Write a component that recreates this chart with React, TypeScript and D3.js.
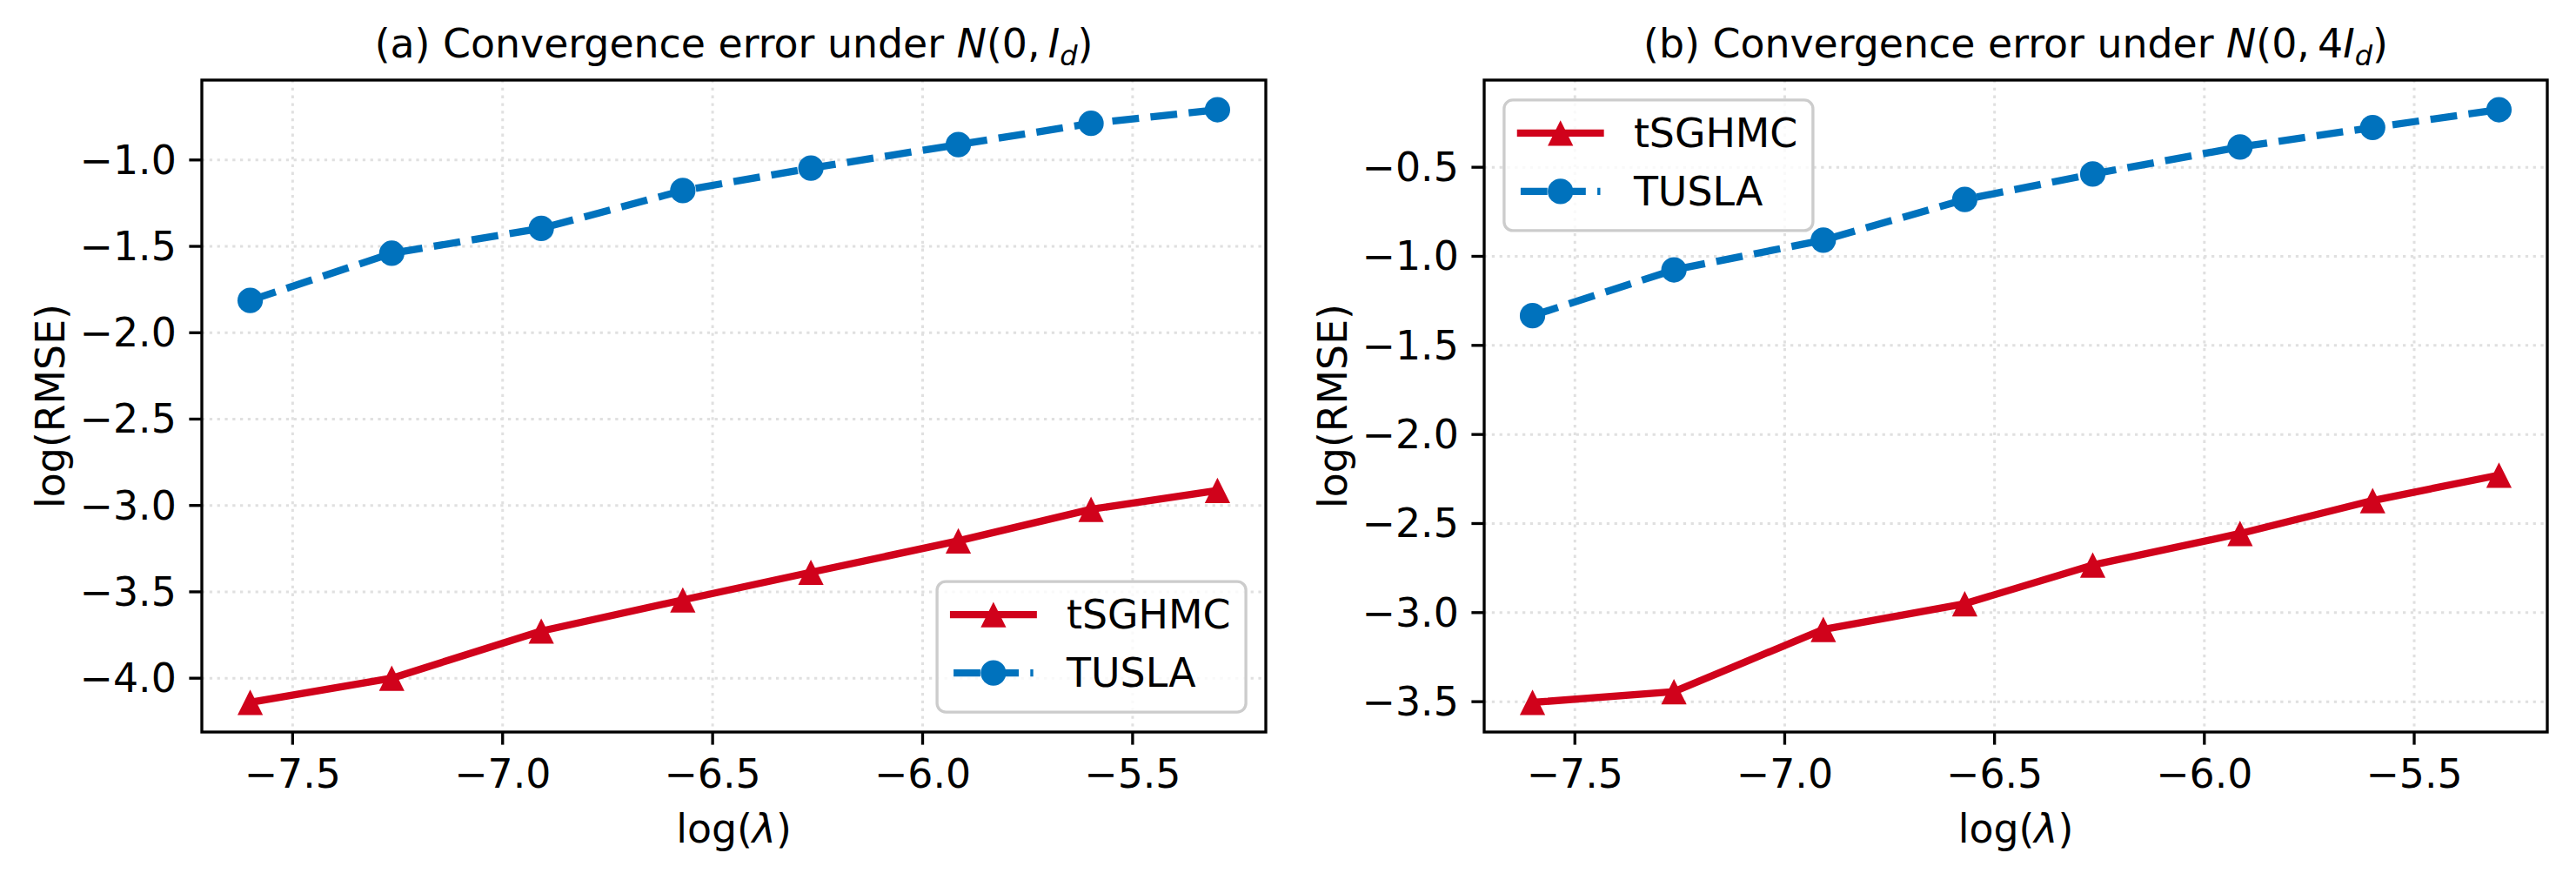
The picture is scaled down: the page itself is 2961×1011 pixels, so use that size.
import React from 'react';
import * as d3 from 'd3';

// log(lambda) values (shared by both panels)
const logLambda = [-7.601, -7.264, -6.908, -6.571, -6.266, -5.915, -5.599, -5.298];

// panel (a): N(0, I_d)
const tsghmcA = [-4.14, -4.0, -3.727, -3.547, -3.387, -3.205, -3.022, -2.913];
const tuslaA = [-1.813, -1.54, -1.396, -1.177, -1.047, -0.911, -0.788, -0.709];

// panel (b): N(0, 4I_d)
const tsghmcB = [-3.504, -3.444, -3.094, -2.95, -2.733, -2.556, -2.371, -2.228];
const tuslaB = [-1.333, -1.076, -0.909, -0.681, -0.538, -0.386, -0.277, -0.177];

const xTicks = [-7.5, -7.0, -6.5, -6.0, -5.5];
const yTicksA = [-4.0, -3.5, -3.0, -2.5, -2.0, -1.5, -1.0];
const yTicksB = [-3.5, -3.0, -2.5, -2.0, -1.5, -1.0, -0.5];

const RED = '#d0021b';
const BLUE = '#0072bd';
const FONT = 'DejaVu Sans';
const FS = 45.8;
const LW = 8.33;
const MS = 29.2;
const TICK = 14.6;

const fmt = (v: number) => v.toFixed(1).replace('-', '\u2212');

const pad = (arr: number[]) => {
  const [lo, hi] = d3.extent(arr) as [number, number];
  const m = (hi - lo) * 0.05;
  return [lo - m, hi + m];
};

const Triangle = ({ x, y, fill }: { x: number; y: number; fill: string }) => {
  const h = MS / 2;
  return <path d={`M${x},${y - h}L${x - h},${y + h}L${x + h},${y + h}Z`} fill={fill} />;
};

interface PanelProps {
  left: number;
  right: number;
  top: number;
  bottom: number;
  tsghmc: number[];
  tusla: number[];
  yTicks: number[];
  label: string;
  scale: string;
  legendPos: 'lower right' | 'upper left';
}

const Panel: React.FC<PanelProps> = ({ left, right, top, bottom, tsghmc, tusla, yTicks, label, scale, legendPos }) => {
  const x = d3.scaleLinear().domain(pad(logLambda)).range([left, right]);
  const y = d3.scaleLinear().domain(pad([...tsghmc, ...tusla])).range([bottom, top]);
  const line = d3.line<number>().x((_, i) => x(logLambda[i])).y(d => y(d));
  const cx = (left + right) / 2;
  const cy = (top + bottom) / 2;

  const lw = 355, lh = 150, bp = 22.9;
  const lx = legendPos === 'lower right' ? right - bp - lw : left + bp;
  const ly = legendPos === 'lower right' ? bottom - bp - lh : top + bp;
  const r1 = ly + 38, r2 = ly + 105;
  const hx0 = lx + 19, hx1 = lx + 19 + 91.6;
  const hm = (hx0 + hx1) / 2;

  return (
    <g fontFamily={FONT}>
      {/* grid */}
      {xTicks.map(t => (
        <line key={'gx' + t} x1={x(t)} x2={x(t)} y1={top} y2={bottom} stroke="#e0e0e0" strokeWidth={3} strokeDasharray="3.3,5.5" />
      ))}
      {yTicks.map(t => (
        <line key={'gy' + t} x1={left} x2={right} y1={y(t)} y2={y(t)} stroke="#e0e0e0" strokeWidth={3} strokeDasharray="3.3,5.5" />
      ))}

      {/* tSGHMC */}
      <path d={line(tsghmc) || ''} fill="none" stroke={RED} strokeWidth={LW} strokeLinejoin="round" strokeLinecap="square" />
      {tsghmc.map((v, i) => <Triangle key={'t' + i} x={x(logLambda[i])} y={y(v)} fill={RED} />)}

      {/* TUSLA */}
      <path d={line(tusla) || ''} fill="none" stroke={BLUE} strokeWidth={LW} strokeLinejoin="round" strokeDasharray="30.8,13.3" />
      {tusla.map((v, i) => <circle key={'c' + i} cx={x(logLambda[i])} cy={y(v)} r={MS / 2} fill={BLUE} />)}

      {/* spines */}
      <rect x={left} y={top} width={right - left} height={bottom - top} fill="none" stroke="#000" strokeWidth={3.33} />

      {/* x ticks */}
      {xTicks.map(t => (
        <g key={'xt' + t}>
          <line x1={x(t)} x2={x(t)} y1={bottom} y2={bottom + TICK} stroke="#000" strokeWidth={3.33} />
          <text x={x(t)} y={bottom + 64} textAnchor="middle" fontSize={FS}>{fmt(t)}</text>
        </g>
      ))}
      {/* y ticks */}
      {yTicks.map(t => (
        <g key={'yt' + t}>
          <line x1={left - TICK} x2={left} y1={y(t)} y2={y(t)} stroke="#000" strokeWidth={3.33} />
          <text x={left - 29.2} y={y(t)} textAnchor="end" dominantBaseline="central" fontSize={FS}>{fmt(t)}</text>
        </g>
      ))}

      {/* labels */}
      <text x={cx} y={bottom + 127} textAnchor="middle" fontSize={FS}>
        log(<tspan fontStyle="italic">λ</tspan>)
      </text>
      <text transform={`translate(${left - 158},${cy}) rotate(-90)`} textAnchor="middle" fontSize={FS}>log(RMSE)</text>
      <text x={cx} y={top - 26} textAnchor="middle" fontSize={FS}>
        {label} Convergence error under <tspan fontStyle="italic">N</tspan>(0,{'\u2009'}{scale}<tspan fontStyle="italic">I</tspan>
        <tspan fontStyle="italic" fontSize={32} dy={9}>d</tspan>
        <tspan dy={-9}>)</tspan>
      </text>

      {/* legend */}
      <rect x={lx} y={ly} width={lw} height={lh} rx={10} fill="#fff" fillOpacity={0.8} stroke="#cccccc" strokeWidth={3.33} />
      <line x1={hx0} x2={hx1} y1={r1} y2={r1} stroke={RED} strokeWidth={LW} strokeLinecap="square" />
      <Triangle x={hm} y={r1} fill={RED} />
      <text x={lx + 149} y={r1} dominantBaseline="central" fontSize={FS}>tSGHMC</text>
      <line x1={hx0} x2={hx1} y1={r2} y2={r2} stroke={BLUE} strokeWidth={LW} strokeDasharray="30.8,13.3" />
      <circle cx={hm} cy={r2} r={MS / 2} fill={BLUE} />
      <text x={lx + 149} y={r2} dominantBaseline="central" fontSize={FS}>TUSLA</text>
    </g>
  );
};

export default function App() {
  return (
    <svg width={2961} height={1011} style={{ position: 'absolute', left: 0, top: 0, background: '#fff' }}>
      <rect width={2961} height={1011} fill="#fff" />
      <Panel left={232} right={1455} top={92} bottom={841} tsghmc={tsghmcA} tusla={tuslaA} yTicks={yTicksA} label="(a)" scale="" legendPos="lower right" />
      <Panel left={1706} right={2928} top={92} bottom={841} tsghmc={tsghmcB} tusla={tuslaB} yTicks={yTicksB} label="(b)" scale="4" legendPos="upper left" />
    </svg>
  );
}
